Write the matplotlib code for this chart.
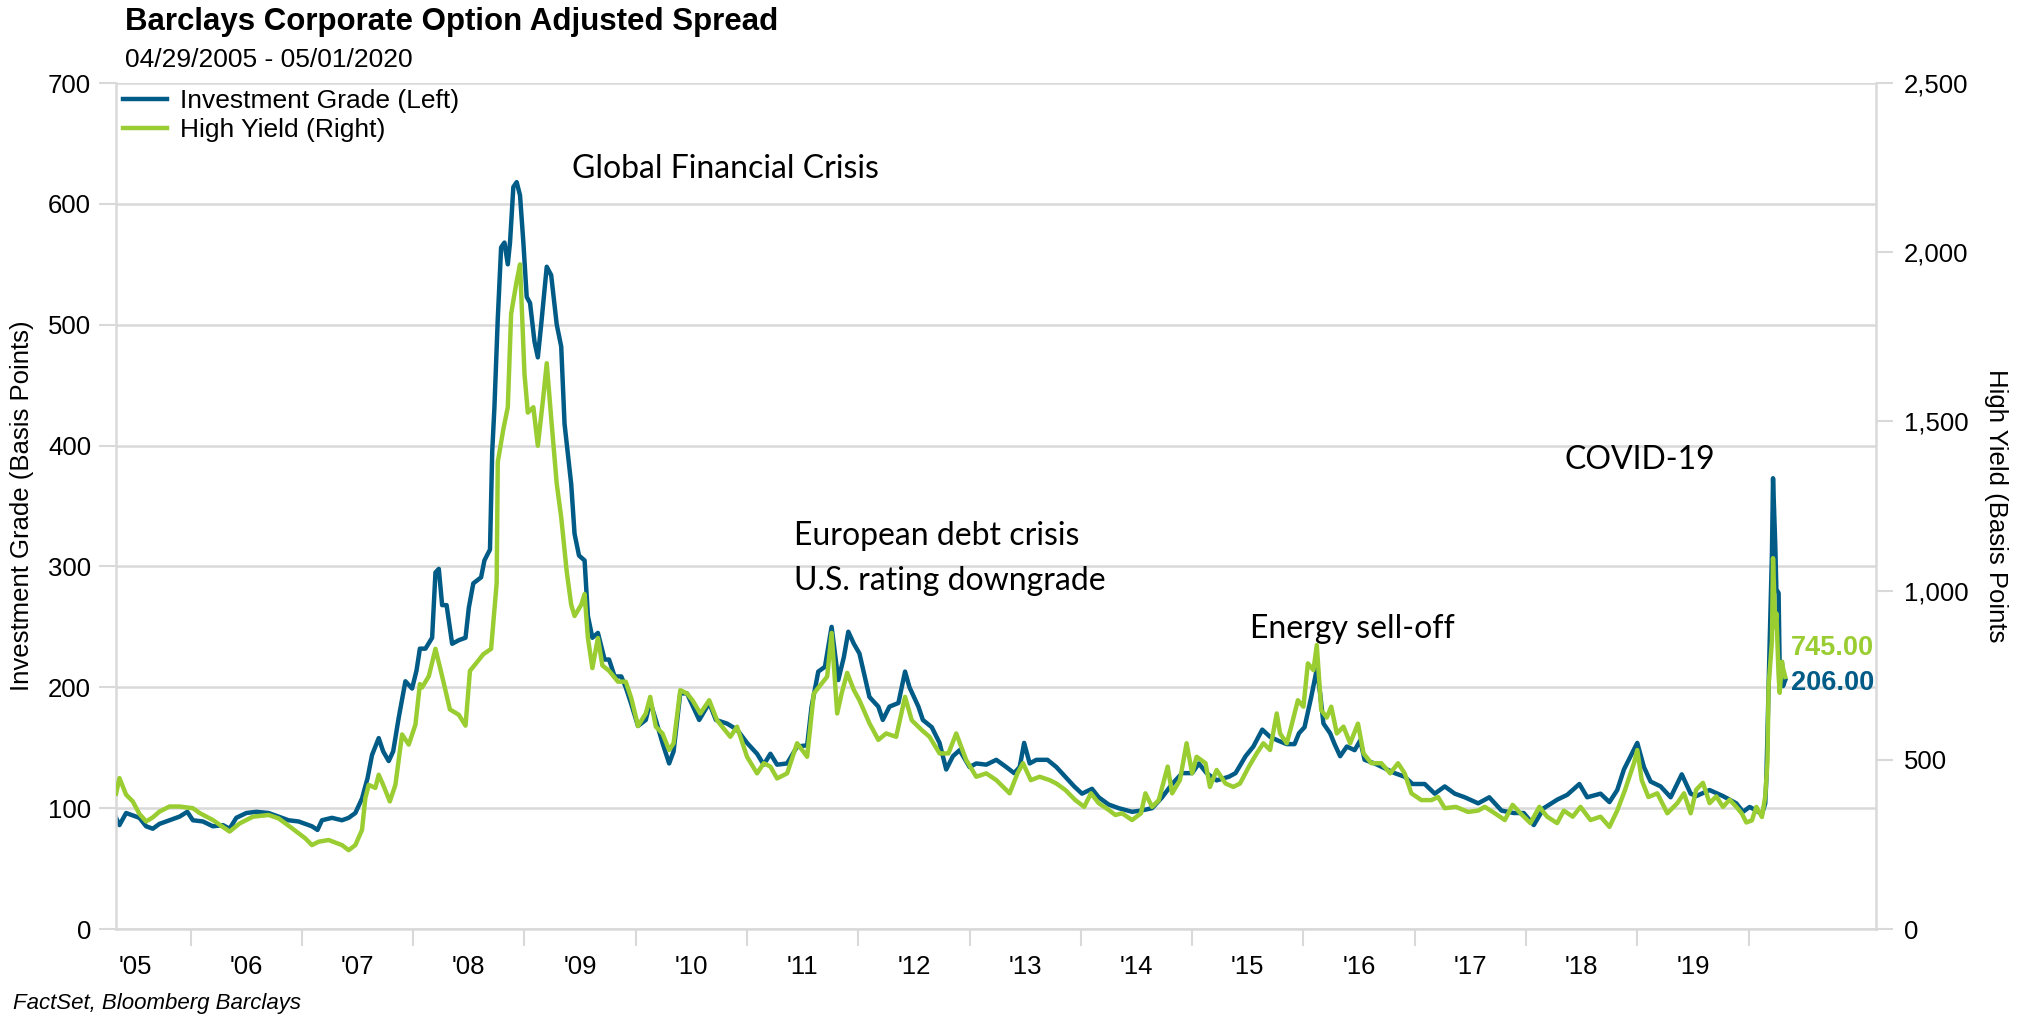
import matplotlib
matplotlib.use("Agg")
import matplotlib.pyplot as plt
from matplotlib.ticker import FixedLocator, FuncFormatter, NullFormatter

plt.rcParams['font.family'] = ['Liberation Sans', 'DejaVu Sans']

# Investment grade OAS (left axis), decimal years
ig_years = [2005.33, 2005.36, 2005.42, 2005.48, 2005.54, 2005.60, 2005.66, 2005.72, 2005.81, 2005.90,
            2005.97, 2006.02, 2006.11, 2006.20, 2006.29, 2006.35, 2006.41, 2006.50, 2006.59, 2006.70,
            2006.79, 2006.88, 2006.97, 2007.09, 2007.14, 2007.18, 2007.27, 2007.36, 2007.42, 2007.48,
            2007.54, 2007.59, 2007.63, 2007.69, 2007.73, 2007.78, 2007.82, 2007.87, 2007.93, 2007.99,
            2008.03, 2008.06, 2008.11, 2008.17, 2008.20, 2008.23, 2008.26, 2008.30, 2008.35, 2008.41,
            2008.47, 2008.50, 2008.54, 2008.61, 2008.64, 2008.69, 2008.71, 2008.73, 2008.76, 2008.79,
            2008.82, 2008.85, 2008.87, 2008.90, 2008.93, 2008.96, 2008.99, 2009.02, 2009.05, 2009.09,
            2009.12, 2009.15, 2009.20, 2009.24, 2009.29, 2009.33, 2009.36, 2009.42, 2009.45, 2009.49,
            2009.54, 2009.57, 2009.61, 2009.66, 2009.72, 2009.76, 2009.81, 2009.87, 2009.91, 2009.96,
            2010.02, 2010.09, 2010.13, 2010.18, 2010.24, 2010.30, 2010.34, 2010.40, 2010.46, 2010.57,
            2010.66, 2010.72, 2010.82, 2010.91, 2011.00, 2011.09, 2011.15, 2011.21, 2011.27, 2011.36,
            2011.45, 2011.54, 2011.58, 2011.64, 2011.70, 2011.76, 2011.82, 2011.87, 2011.91, 2011.96,
            2012.01, 2012.10, 2012.18, 2012.22, 2012.28, 2012.36, 2012.42, 2012.46, 2012.54, 2012.58,
            2012.66, 2012.73, 2012.79, 2012.85, 2012.91, 2013.00, 2013.06, 2013.15, 2013.24, 2013.33,
            2013.40, 2013.45, 2013.49, 2013.54, 2013.60, 2013.70, 2013.78, 2013.86, 2013.94, 2014.01,
            2014.10, 2014.16, 2014.25, 2014.34, 2014.46, 2014.54, 2014.64, 2014.73, 2014.82, 2014.91,
            2015.00, 2015.06, 2015.13, 2015.22, 2015.33, 2015.39, 2015.48, 2015.55, 2015.63, 2015.70,
            2015.77, 2015.85, 2015.92, 2015.96, 2016.01, 2016.07, 2016.12, 2016.15, 2016.18, 2016.24,
            2016.28, 2016.33, 2016.39, 2016.46, 2016.51, 2016.55, 2016.64, 2016.73, 2016.82, 2016.91,
            2016.98, 2017.09, 2017.18, 2017.27, 2017.36, 2017.45, 2017.57, 2017.67, 2017.78, 2017.89,
            2017.98, 2018.07, 2018.16, 2018.28, 2018.37, 2018.48, 2018.55, 2018.67, 2018.75, 2018.82,
            2018.88, 2018.94, 2019.00, 2019.06, 2019.12, 2019.21, 2019.30, 2019.40, 2019.48, 2019.53,
            2019.65, 2019.77, 2019.89, 2019.95, 2020.01, 2020.07, 2020.12, 2020.15, 2020.16, 2020.18,
            2020.19, 2020.21, 2020.22, 2020.24, 2020.25, 2020.27, 2020.28, 2020.30, 2020.31, 2020.33]
ig_values = [92, 86, 96, 94, 92, 85, 83, 87, 90, 93,
             97, 90, 89, 85, 86, 83, 92, 96, 97, 96,
             93, 90, 89, 85, 82, 90, 92, 90, 92, 96,
             108, 125, 144, 158, 147, 139, 147, 175, 205, 199,
             214, 232, 232, 241, 295, 298, 268, 268, 236, 239,
             241, 266, 286, 291, 305, 314, 395, 432, 505, 564,
             568, 550, 568, 614, 618, 607, 568, 523, 518, 486,
             473, 500, 548, 541, 500, 482, 418, 368, 327, 309,
             305, 259, 241, 245, 223, 223, 209, 209, 200, 186,
             168, 173, 188, 173, 154, 137, 147, 195, 195, 173,
             187, 173, 170, 165, 154, 145, 136, 145, 136, 137,
             151, 152, 184, 213, 217, 250, 206, 225, 246, 236,
             228, 192, 184, 173, 184, 187, 213, 200, 184, 173,
             167, 154, 132, 143, 148, 134, 137, 136, 140, 134,
             129, 134, 154, 137, 140, 140, 134, 126, 118, 112,
             116, 109, 103, 100, 97, 98, 100, 109, 120, 129,
             129, 137, 129, 123, 126, 129, 143, 151, 165, 159,
             156, 153, 153, 162, 167, 192, 215, 195, 170, 162,
             153, 143, 151, 148, 156, 140, 137, 133, 129, 126,
             120, 120, 112, 118, 112, 109, 104, 109, 98, 96,
             96, 86, 100, 107, 111, 120, 109, 112, 105, 115,
             132, 143, 154, 134, 122, 118, 109, 128, 112, 110,
             115, 110, 104, 97, 101, 98, 95, 104, 124, 201,
             238, 310, 373, 318, 281, 278, 215, 221, 201, 206]

# High yield OAS (right axis), decimal years
hy_years = [2005.33, 2005.36, 2005.42, 2005.48, 2005.54, 2005.60, 2005.66, 2005.72, 2005.81, 2005.90,
            2006.02, 2006.08, 2006.20, 2006.35, 2006.44, 2006.56, 2006.70, 2006.79, 2006.91, 2007.03,
            2007.09, 2007.15, 2007.24, 2007.36, 2007.42, 2007.48, 2007.54, 2007.57, 2007.60, 2007.66,
            2007.69, 2007.73, 2007.79, 2007.84, 2007.90, 2007.96, 2008.02, 2008.06, 2008.08, 2008.14,
            2008.20, 2008.26, 2008.33, 2008.41, 2008.47, 2008.51, 2008.55, 2008.63, 2008.70, 2008.75,
            2008.76, 2008.81, 2008.85, 2008.88, 2008.93, 2008.96, 2009.00, 2009.03, 2009.08, 2009.12,
            2009.17, 2009.20, 2009.24, 2009.29, 2009.33, 2009.38, 2009.42, 2009.45, 2009.51, 2009.54,
            2009.57, 2009.61, 2009.66, 2009.70, 2009.76, 2009.84, 2009.91, 2009.96, 2010.02, 2010.09,
            2010.13, 2010.18, 2010.24, 2010.30, 2010.34, 2010.40, 2010.46, 2010.51, 2010.58, 2010.66,
            2010.73, 2010.85, 2010.91, 2011.00, 2011.09, 2011.15, 2011.21, 2011.27, 2011.36, 2011.45,
            2011.54, 2011.60, 2011.66, 2011.72, 2011.76, 2011.81, 2011.85, 2011.90, 2011.96, 2012.01,
            2012.10, 2012.18, 2012.25, 2012.34, 2012.42, 2012.48, 2012.57, 2012.64, 2012.73, 2012.81,
            2012.88, 2012.97, 2013.06, 2013.15, 2013.24, 2013.36, 2013.43, 2013.48, 2013.55, 2013.63,
            2013.72, 2013.78, 2013.86, 2013.95, 2014.03, 2014.09, 2014.16, 2014.25, 2014.31, 2014.37,
            2014.46, 2014.54, 2014.58, 2014.64, 2014.70, 2014.78, 2014.82, 2014.89, 2014.95, 2015.00,
            2015.04, 2015.12, 2015.16, 2015.22, 2015.30, 2015.37, 2015.43, 2015.51, 2015.58, 2015.64,
            2015.70, 2015.76, 2015.79, 2015.85, 2015.89, 2015.95, 2016.00, 2016.04, 2016.09, 2016.12,
            2016.16, 2016.21, 2016.25, 2016.30, 2016.36, 2016.42, 2016.49, 2016.54, 2016.61, 2016.70,
            2016.78, 2016.85, 2016.91, 2016.97, 2017.06, 2017.15, 2017.21, 2017.27, 2017.37, 2017.48,
            2017.57, 2017.63, 2017.72, 2017.81, 2017.88, 2017.95, 2018.04, 2018.12, 2018.19, 2018.28,
            2018.34, 2018.42, 2018.49, 2018.58, 2018.67, 2018.75, 2018.82, 2018.89, 2018.97, 2019.00,
            2019.04, 2019.10, 2019.18, 2019.27, 2019.36, 2019.42, 2019.48, 2019.53, 2019.59, 2019.65,
            2019.71, 2019.77, 2019.83, 2019.89, 2019.94, 2019.98, 2020.03, 2020.07, 2020.12, 2020.15,
            2020.17, 2020.18, 2020.21, 2020.22, 2020.24, 2020.25, 2020.27, 2020.28, 2020.30, 2020.31,
            2020.33]
hy_values = [400, 446, 397, 377, 340, 318, 330, 347, 362, 362,
             357, 343, 322, 288, 312, 332, 337, 327, 298, 268,
             248, 258, 263, 248, 233, 248, 293, 387, 426, 417,
             456, 426, 377, 426, 575, 545, 604, 724, 714, 747,
             828, 747, 649, 633, 601, 763, 779, 812, 828, 1022,
             1380, 1477, 1542, 1818, 1915, 1964, 1640, 1526, 1542, 1428,
             1575, 1672, 1510, 1315, 1217, 1055, 958, 925, 958, 990,
             860, 771, 860, 779, 763, 731, 731, 682, 600, 637,
             686, 598, 578, 529, 549, 706, 696, 676, 637, 676,
             617, 568, 598, 509, 460, 490, 480, 445, 460, 549,
             509, 696, 721, 746, 875, 637, 696, 757, 706, 676,
             608, 559, 578, 568, 686, 617, 588, 568, 519, 519,
             578, 499, 450, 460, 440, 401, 460, 490, 440, 450,
             440, 430, 411, 381, 361, 401, 372, 352, 337, 342,
             322, 342, 401, 361, 381, 480, 401, 440, 549, 460,
             509, 490, 420, 470, 430, 420, 430, 480, 519, 549,
             529, 637, 578, 549, 598, 676, 657, 785, 765, 839,
             647, 625, 657, 578, 598, 549, 607, 519, 490, 490,
             460, 490, 460, 401, 381, 381, 390, 357, 361, 346,
             350, 361, 342, 322, 367, 342, 313, 361, 332, 313,
             350, 332, 361, 322, 332, 302, 350, 411, 490, 529,
             440, 390, 401, 342, 372, 401, 342, 412, 432, 372,
             392, 361, 382, 361, 341, 315, 321, 361, 331, 392,
             494, 718, 850, 1096, 892, 933, 749, 698, 790, 770,
             745]

year_ticks = list(range(2006, 2021))
year_labels = ["'05", "'06", "'07", "'08", "'09", "'10", "'11", "'12", "'13", "'14",
               "'15", "'16", "'17", "'18", "'19"]
label_pos = [y + 0.5 for y in range(2005, 2020)]

annotations = [
    ("Global Financial Crisis", 2009.43, 629),
    ("European debt crisis", 2011.42, 325),
    ("U.S. rating downgrade", 2011.42, 288),
    ("Energy sell-off", 2015.52, 248),
    ("COVID-19", 2018.35, 388),
]

IG_COLOR = '#005b86'
HY_COLOR = '#9acd32'
GRID = '#d9d9d9'

fig = plt.figure(figsize=(20.26, 10.15), dpi=100)
ax = fig.add_axes([0.0573, 0.0847, 0.8687, 0.8335])
ax2 = ax.twinx()

l1, = ax.plot(ig_years, ig_values, color=IG_COLOR, lw=3.2, label='Investment Grade (Left)')
l2, = ax2.plot(hy_years, hy_values, color=HY_COLOR, lw=3.2, label='High Yield (Right)')

ax.set_xlim(2005.33, 2021.146)
ax.set_ylim(0, 700)
ax2.set_ylim(0, 2500)

ax.set_yticks(range(0, 701, 100))
ax2.set_yticks(range(0, 2501, 500))
ax2.yaxis.set_major_formatter(FuncFormatter(lambda v, p: f'{v:,.0f}'))

ax.xaxis.set_major_locator(FixedLocator(year_ticks))
ax.xaxis.set_major_formatter(NullFormatter())
ax.xaxis.set_minor_locator(FixedLocator(label_pos))
ax.set_xticklabels(year_labels, minor=True)

ax.tick_params(axis='x', which='major', length=12, width=1.5, color=GRID)
ax.tick_params(axis='x', which='minor', length=0, pad=19, labelsize=18.5)
ax.tick_params(axis='y', length=12, width=1.5, color=GRID, labelsize=18.5, pad=6)
ax2.tick_params(axis='y', length=12, width=1.5, color=GRID, labelsize=18.5, pad=8)

ax.grid(axis='y', color=GRID, lw=1.8)
ax.set_axisbelow(True)

for s in ['left', 'right', 'bottom']:
    ax.spines[s].set_color(GRID)
    ax.spines[s].set_linewidth(1.8)
ax.spines['top'].set_visible(False)
for s in ax2.spines.values():
    s.set_visible(False)

ax.legend(handles=[l1, l2], loc='upper left', bbox_to_anchor=(0.004, 0.993),
          frameon=False, fontsize=19, handlelength=1.65, handletextpad=0.5,
          labelspacing=0.2, borderaxespad=0, borderpad=0)

for txt, x, y in annotations:
    ax.text(x, y, txt, fontsize=23, family=['Lato', 'DejaVu Sans'], va='center', ha='left')

# end-of-series value labels
ax.annotate(f'{ig_values[-1]:.2f}', (ig_years[-1], ig_values[-1]), xytext=(4, -2),
            textcoords='offset points', color=IG_COLOR, fontsize=19.5, fontweight='bold',
            va='center', ha='left')
ax2.annotate(f'{hy_values[-1]:.2f}', (hy_years[-1], hy_values[-1]), xytext=(4, 21),
             textcoords='offset points', color=HY_COLOR, fontsize=19.5, fontweight='bold',
             va='center', ha='left')

fig.text(125 / 2026, 1 - 22 / 1015, 'Barclays Corporate Option Adjusted Spread',
         fontsize=22.5, fontweight='bold', va='center', ha='left')
fig.text(125 / 2026, 1 - 60 / 1015, '04/29/2005 - 05/01/2020', fontsize=19, va='center', ha='left')
fig.text(22 / 2026, 1 - 506 / 1015, 'Investment Grade (Basis Points)', fontsize=18.5,
         rotation=90, va='center', ha='center')
fig.text(1996 / 2026, 1 - 506 / 1015, 'High Yield (Basis Points', fontsize=18.5,
         rotation=270, va='center', ha='center')
fig.text(13 / 2026, 1 - 1003 / 1015, 'FactSet, Bloomberg Barclays', fontsize=16,
         style='italic', va='center', ha='left')

fig.savefig('out.png', dpi=100)
